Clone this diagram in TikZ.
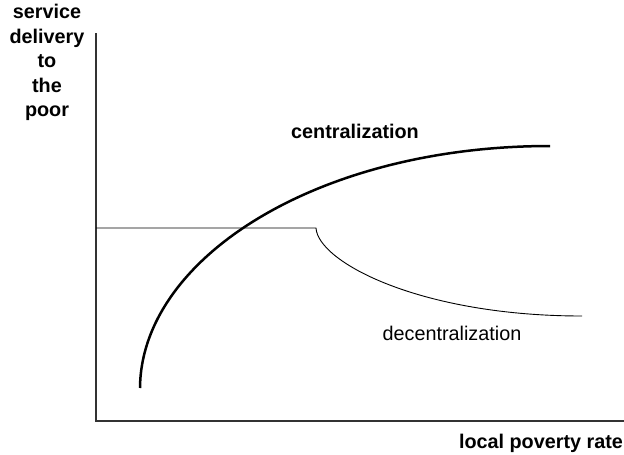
\documentclass[tikz,border=0pt]{standalone}
\usepackage{fontspec}
\setmainfont{Liberation Sans}
\begin{document}
\begin{tikzpicture}[x=1pt,y=-1pt,
  axis/.style={line width=1.1pt,draw=black!80},
  thin/.style={line width=0.9pt},
  thick curve/.style={line width=2.5pt},
  lab/.style={font=\fontsize{19.8}{24.5}\selectfont\bfseries,inner sep=0pt},
  plain/.style={font=\fontsize{19.8}{24}\selectfont,inner sep=0pt}]
\useasboundingbox (0,0) rectangle (624,455);
\coordinate (top) at (96,33);
\coordinate (origin) at (96,421);
\coordinate (right) at (624,421);
\draw[axis] (top) -- (origin) -- (right);
\coordinate (hstart) at (96,228);
\coordinate (kink) at (316,228);
\coordinate (dend) at (582,316);
\draw[thin] (hstart) -- (kink) .. controls (318,262) and (420,316) .. (dend);
\coordinate (cstart) at (140,388);
\coordinate (cend) at (550,146);
\draw[thick curve] (cstart) .. controls (141,258) and (318,146) .. (cend);
\node[lab,align=center,anchor=north] (ylab) at (47,4) {service\\delivery\\to\\the\\poor};
\node[lab] (cl) at (355,131) {centralization};
\node[plain] (dl) at (452,333) {decentralization};
\node[lab] (xl) at (541,443) {local poverty rate};
\end{tikzpicture}
\end{document}
